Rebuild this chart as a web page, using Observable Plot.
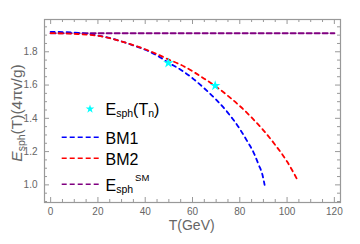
<!DOCTYPE html>
<html><head><meta charset="utf-8">
<script src="https://cdn.jsdelivr.net/npm/d3@7"></script>
<script src="https://cdn.jsdelivr.net/npm/@observablehq/plot@0.6"></script>
<style>body{margin:0;background:#fff;} #chart svg{display:block;}</style>
</head><body><div id="chart"></div>
<script>
// ---- data ----
const T_BM1 = [0,10,20,25,30,35,40,45,50,55,60,65,70,75,80,83,86,88,89.5,90.5];
const E_BM1 = [1.920,1.915,1.898,1.883,1.862,1.838,1.812,1.778,1.733,1.692,1.641,1.580,1.512,1.433,1.336,1.266,1.190,1.120,1.065,1.000];
const T_BM2 = [0,10,20,25,30,35,40,45,50,55,60,65,70,75,80,85,90,95,100,104.2];
const E_BM2 = [1.912,1.908,1.896,1.882,1.862,1.840,1.815,1.786,1.753,1.722,1.683,1.638,1.590,1.535,1.474,1.405,1.328,1.240,1.140,1.035];
const T_SM = [0,120];
const E_SM = [1.912,1.912];
const T_n = [49.8,69.6];
const E_n = [1.733,1.596];
const xTicks = [0,20,40,60,80,100,120];
const yTicks = [1.0,1.2,1.4,1.6,1.8];
const legendLabels = ["BM1","BM2"];

const bm1 = T_BM1.map((t,i)=>({T:t,E:E_BM1[i]}));
const bm2 = T_BM2.map((t,i)=>({T:t,E:E_BM2[i]}));
const sm = T_SM.map((t,i)=>({T:t,E:E_SM[i]}));
const stars = T_n.map((t,i)=>({T:t,E:E_n[i]}));
const xMinor = d3.range(0,121,5).filter(v=>!xTicks.includes(v));
const yMinor = d3.range(0.9,1.96,0.05).map(v=>+v.toFixed(2)).filter(v=>!yTicks.some(t=>Math.abs(t-v)<1e-6));

const W=360,H=244,mL=44,mR=20,mT=19,mB=42;
const iW=W-mL-mR, iH=H-mT-mB;
const gray="#999", tcol="#666";
const font="'Liberation Sans', Arial, sans-serif";

const plot = Plot.plot({
  width:W, height:H, marginLeft:mL, marginRight:mR, marginTop:mT, marginBottom:mB,
  style:{fontFamily:font, background:"#fff"},
  x:{domain:[-2.6,122.6]},
  y:{domain:[0.894,1.994]},
  marks:[
    Plot.tickX(xTicks,{x:d=>d,insetTop:iH-5,stroke:gray}),
    Plot.tickX(xTicks,{x:d=>d,insetBottom:iH-5,stroke:gray}),
    Plot.tickX(xMinor,{x:d=>d,insetTop:iH-3,stroke:gray}),
    Plot.tickX(xMinor,{x:d=>d,insetBottom:iH-3,stroke:gray}),
    Plot.tickY(yTicks,{y:d=>d,insetRight:iW-5,stroke:gray}),
    Plot.tickY(yTicks,{y:d=>d,insetLeft:iW-5,stroke:gray}),
    Plot.tickY(yMinor,{y:d=>d,insetRight:iW-3,stroke:gray}),
    Plot.tickY(yMinor,{y:d=>d,insetLeft:iW-3,stroke:gray}),
    Plot.frame({stroke:gray,strokeWidth:1.2}),
    Plot.axisX(xTicks,{anchor:"bottom",tickSize:0,tickPadding:5,label:null,fontSize:10,color:tcol}),
    Plot.axisY(yTicks,{anchor:"left",tickSize:0,tickPadding:7,label:null,fontSize:10,color:tcol,tickFormat:d3.format(".1f")}),
    Plot.line(sm,{x:"T",y:"E",stroke:"#800080",strokeWidth:2,strokeDasharray:"5,3"}),
    Plot.line(bm1,{x:"T",y:"E",stroke:"#0000ff",strokeWidth:1.8,strokeDasharray:"4,4",curve:"monotone-x"}),
    Plot.line(bm2,{x:"T",y:"E",stroke:"#ff0000",strokeWidth:1.8,strokeDasharray:"4,4",curve:"monotone-x"}),
    Plot.dot(stars,{x:"T",y:"E",symbol:"star",fill:"#00ffff",r:3.3,stroke:"none"})
  ]
});
document.getElementById("chart").appendChild(plot);

const svg = d3.select(plot);
// x label
svg.append("text").attr("x",191.7).attr("y",229.5).attr("text-anchor","middle")
  .attr("font-family",font).attr("font-size",14).attr("fill",tcol).text("T(GeV)");
// y label
const yl = svg.append("text").attr("transform","translate(22,113) rotate(-90)")
  .attr("text-anchor","middle").attr("font-family",font).attr("font-size",15.5).attr("fill",tcol);
yl.append("tspan").attr("font-style","italic").text("E");
yl.append("tspan").attr("font-size",10.5).attr("dy",3).text("sph");
yl.append("tspan").attr("dy",-3).text("(T)(4\u03C0v/g)");

// legend
const lg = svg.append("g").attr("font-family",font).attr("font-size",16).attr("fill","#000")
  .attr("text-anchor","start");
lg.append("path").attr("d",d3.symbol(d3.symbolStar, Math.PI*2.7*2.7)())
  .attr("transform","translate(90,109)").attr("fill","#00ffff");
const t1 = lg.append("text").attr("x",105.5).attr("y",114.5).attr("text-anchor","start");
t1.append("tspan").text("E");
t1.append("tspan").attr("font-size",10.5).attr("dy",2.5).text("sph");
t1.append("tspan").attr("dy",-2.5).text("(T");
t1.append("tspan").attr("font-size",10.5).attr("dy",2.5).text("n");
t1.append("tspan").attr("dy",-2.5).text(")");

const rows = [
  {y:137.3, color:"#0000ff", label:legendLabels[0]},
  {y:158.3, color:"#ff0000", label:legendLabels[1]},
];
rows.forEach(r=>{
  lg.append("line").attr("x1",61.7).attr("x2",100).attr("y1",r.y).attr("y2",r.y)
    .attr("stroke",r.color).attr("stroke-width",1.5).attr("stroke-dasharray","5,3");
  lg.append("text").attr("x",105.5).attr("y",r.y+6.6).attr("text-anchor","start").text(r.label);
});
lg.append("line").attr("x1",61.7).attr("x2",100).attr("y1",184.3).attr("y2",184.3)
  .attr("stroke","#800080").attr("stroke-width",1.5).attr("stroke-dasharray","5,3");
const t4 = lg.append("text").attr("x",105.5).attr("y",190.7).attr("text-anchor","start");
t4.append("tspan").text("E");
t4.append("tspan").attr("font-size",10.5).attr("dy",2.5).text("sph");
t4.append("tspan").attr("font-size",9.5).attr("dy",-12.2).attr("dx",2).text("SM");
</script>
</body></html>
